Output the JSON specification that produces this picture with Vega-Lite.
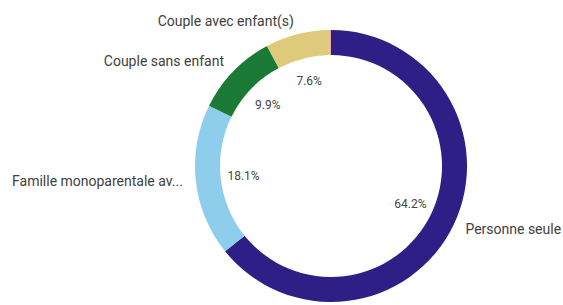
{
  "$schema": "https://vega.github.io/schema/vega-lite/v6.json",
  "width": 272,
  "height": 272,
  "autosize": "none",
  "padding": {"left": 195, "top": 30, "right": 96, "bottom": 3},
  "background": "white",
  "config": {"view": {"stroke": null}},
  "data": {
    "values": [
      {"category": "Personne seule", "value": 0.642},
      {"category": "Famille monoparentale av...", "value": 0.181},
      {"category": "Couple sans enfant", "value": 0.099},
      {"category": "Couple avec enfant(s)", "value": 0.076},
      {"category": "Autre", "value": 0.002}
    ]
  },
  "encoding": {
    "theta": {"field": "value", "type": "quantitative", "stack": true},
    "order": {"field": "category", "type": "nominal", "sort": "descending"}
  },
  "layer": [
    {
      "mark": {"type": "arc", "outerRadius": 136, "innerRadius": 111},
      "encoding": {
        "color": {
          "field": "category",
          "type": "nominal",
          "scale": {
            "domain": ["Personne seule", "Famille monoparentale av...", "Couple sans enfant", "Couple avec enfant(s)", "Autre"],
            "range": ["#2d1f86", "#8ecdeb", "#1b7a35", "#dfc97b", "#e9a7a3"]
          },
          "legend": null
        }
      }
    },
    {
      "mark": {"type": "text", "radius": 88, "font": "Roboto", "fontSize": 12, "color": "#444444", "baseline": "middle"},
      "encoding": {
        "text": {"condition": {"test": "datum.value > 0.01", "field": "value", "format": ".1%"}, "value": ""}
      }
    },
    {
      "mark": {"type": "text", "radius": 149, "font": "Roboto", "fontSize": 14, "color": "#404040", "align": "right", "baseline": "middle"},
      "encoding": {
        "text": {"condition": {"test": "datum.category !== 'Personne seule' && datum.value > 0.01", "field": "category"}, "value": ""}
      }
    },
    {
      "mark": {"type": "text", "radius": 149, "font": "Roboto", "fontSize": 14, "color": "#404040", "align": "left", "baseline": "middle"},
      "encoding": {
        "text": {"condition": {"test": "datum.category === 'Personne seule'", "field": "category"}, "value": ""}
      }
    }
  ]
}
